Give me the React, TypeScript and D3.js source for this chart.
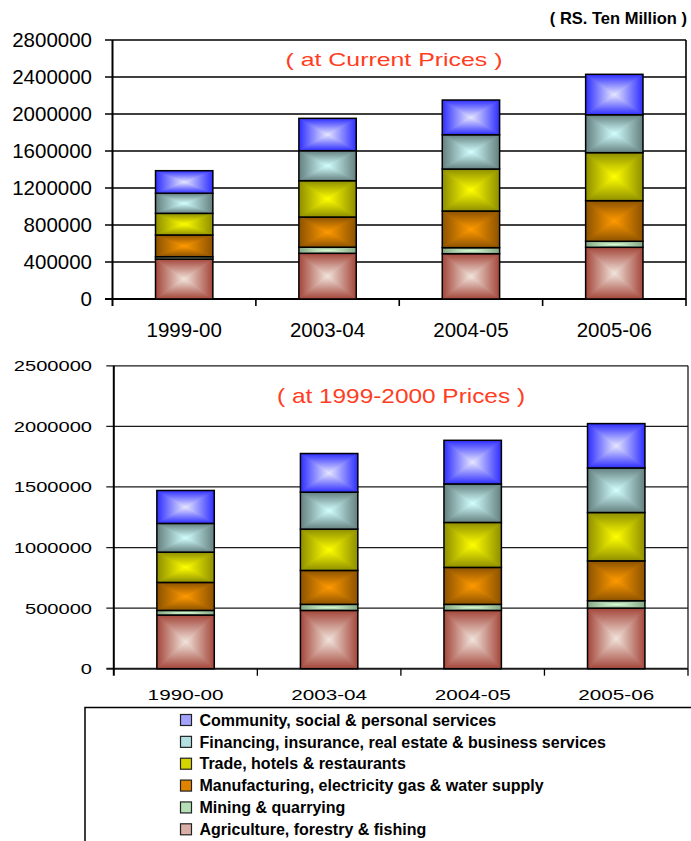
import React from "react";
import * as d3 from "d3";

// ---------- data ----------
const yearsCurrent = ["1999-00", "2003-04", "2004-05", "2005-06"];
const yearsConstant = ["1990-00", "2003-04", "2004-05", "2005-06"];

// stacking order: bottom -> top
const sectorNames = [
  "Agriculture, forestry & fishing",
  "Mining & quarrying",
  "Manufacturing, electricity gas & water supply",
  "Trade, hotels & restaurants",
  "Financing, insurance, real estate & business services",
  "Community, social & personal services",
];
const sectorEdge = ["#A4463A", "#86A886", "#8C5200", "#8E8E00", "#64807F", "#2E2EFF"];
const sectorCenter = ["#F1E4DC", "#D8FFD8", "#FF9A00", "#FFFF00", "#D2FFFF", "#E6E6FF"];
const sectorSwatch = ["#D9AFA6", "#B5E0B5", "#E08400", "#D4D400", "#B3E0E0", "#A3A3FF"];

// at current prices (Rs. ten million)
const curAgriculture = [432000, 494000, 490000, 559000];
const curMining = [25000, 66000, 65000, 65000];
const curManufacturing = [235000, 326000, 396000, 439000];
const curTrade = [234000, 393000, 454000, 519000];
const curFinancing = [217000, 324000, 371000, 410000];
const curCommunity = [244000, 350000, 375000, 437000];

// at 1999-2000 prices
const conAgriculture = [443000, 481000, 481000, 500000];
const conMining = [38000, 50000, 50000, 61000];
const conManufacturing = [231000, 280000, 305000, 329000];
const conTrade = [250000, 341000, 371000, 399000];
const conFinancing = [237000, 305000, 318000, 368000];
const conCommunity = [272000, 319000, 360000, 366000];

const currentTicks = [0, 400000, 800000, 1200000, 1600000, 2000000, 2400000, 2800000];
const constantTicks = [0, 500000, 1000000, 1500000, 2000000, 2500000];

const currentSeries = [curAgriculture, curMining, curManufacturing, curTrade, curFinancing, curCommunity];
const constantSeries = [conAgriculture, conMining, conManufacturing, conTrade, conFinancing, conCommunity];

const FONT = "Arial, 'Liberation Sans', sans-serif";

function Gradients() {
  return (
    <defs>
      {sectorNames.map((_, i) => (
        <React.Fragment key={i}>
          <linearGradient id={`g${i}t`} x1="0" y1="0" x2="0" y2="1">
            <stop offset="0" stopColor={sectorEdge[i]} />
            <stop offset="1" stopColor={sectorCenter[i]} />
          </linearGradient>
          <linearGradient id={`g${i}b`} x1="0" y1="1" x2="0" y2="0">
            <stop offset="0" stopColor={sectorEdge[i]} />
            <stop offset="1" stopColor={sectorCenter[i]} />
          </linearGradient>
          <linearGradient id={`g${i}l`} x1="0" y1="0" x2="1" y2="0">
            <stop offset="0" stopColor={sectorEdge[i]} />
            <stop offset="1" stopColor={sectorCenter[i]} />
          </linearGradient>
          <linearGradient id={`g${i}r`} x1="1" y1="0" x2="0" y2="0">
            <stop offset="0" stopColor={sectorEdge[i]} />
            <stop offset="1" stopColor={sectorCenter[i]} />
          </linearGradient>
        </React.Fragment>
      ))}
    </defs>
  );
}

function Segment({ x0, x1, y0, y1, s }: { x0: number; x1: number; y0: number; y1: number; s: number }) {
  const cx = (x0 + x1) / 2;
  const cy = (y0 + y1) / 2;
  const h = y1 - y0;
  return (
    <g>
      {/* top and bottom halves as full rectangles: no diagonal gaps */}
      <rect x={x0} y={y0} width={x1 - x0} height={h / 2 + 0.3} fill={`url(#g${s}t)`} />
      <rect x={x0} y={cy} width={x1 - x0} height={h / 2} fill={`url(#g${s}b)`} />
      <polygon points={`${x0},${y0} ${x0},${y1} ${cx},${cy}`} fill={`url(#g${s}l)`} />
      <polygon points={`${x1},${y0} ${x1},${y1} ${cx},${cy}`} fill={`url(#g${s}r)`} />
      <rect x={x0} y={y0} width={x1 - x0} height={h} fill="none" stroke="#000" strokeWidth={1.5} />
    </g>
  );
}

type ChartProps = {
  categories: string[];
  series: number[][];
  ticks: number[];
  left: number;
  right: number;
  top: number;
  bottom: number;
  big: boolean;
  title: string;
  titleX: number;
  titleY: number;
  titleSize: number;
  titleLen: number;
  xLabelY: number;
};

function StackChart(p: ChartProps) {
  const x = d3.scaleBand<string>().domain(p.categories).range([p.left, p.right]).padding(0);
  const y = d3.scaleLinear().domain([0, p.ticks[p.ticks.length - 1]]).range([p.bottom, p.top]);
  const rows = p.categories.map((c, ci) => {
    const r: any = { cat: c };
    p.series.forEach((s, si) => (r["s" + si] = s[ci]));
    return r;
  });
  const stack = d3.stack<any>().keys(p.series.map((_, i) => "s" + i))(rows);
  const bw = x.bandwidth();
  const gridColor = p.big ? "#000" : "#1a1a1a";
  const gridW = p.big ? 1.6 : 1.3;
  const boundaries = [...p.categories.map((c) => x(c) as number), p.right];
  return (
    <g>
      {p.ticks.map((t) => (
        <line key={t} x1={p.left - 7.5} x2={p.right} y1={y(t)} y2={y(t)} stroke={gridColor} strokeWidth={t === 0 ? 2 : gridW} />
      ))}
      {p.ticks.map((t) =>
        p.big ? (
          <text key={t} x={92} y={y(t)} dy="0.36em" textAnchor="end" fontFamily={FONT} fontSize={20.5} fill="#000">
            {t}
          </text>
        ) : (
          <text key={t} transform={`translate(92,${y(t)}) scale(1.34,1)`} dy="0.36em" textAnchor="end" fontFamily={FONT} fontSize={15} fill="#000">
            {t}
          </text>
        )
      )}
      {stack.map((layer, si) =>
        layer.map((d, ci) => {
          const cat = p.categories[ci];
          const x0 = (x(cat) as number) + bw * 0.3;
          return <Segment key={si + "-" + ci} x0={x0} x1={x0 + bw * 0.4} y0={y(d[1])} y1={y(d[0])} s={si} />;
        })
      )}
      <line x1={p.left} x2={p.left} y1={p.top} y2={p.bottom} stroke="#000" strokeWidth={2} />
      <line x1={p.right} x2={p.right} y1={p.top} y2={p.bottom} stroke={gridColor} strokeWidth={gridW} />
      {boundaries.map((b, i) => (
        <line key={i} x1={b} x2={b} y1={p.bottom} y2={p.bottom + 7} stroke="#000" strokeWidth={i === 0 ? 2 : gridW} />
      ))}
      {p.categories.map((c) =>
        p.big ? (
          <text key={c} x={(x(c) as number) + bw / 2} y={p.xLabelY} textAnchor="middle" fontFamily={FONT} fontSize={20.5} fill="#000">
            {c}
          </text>
        ) : (
          <text key={c} transform={`translate(${(x(c) as number) + bw / 2},${p.xLabelY}) scale(1.38,1)`} textAnchor="middle" fontFamily={FONT} fontSize={15} fill="#000">
            {c}
          </text>
        )
      )}
      <text x={p.titleX} y={p.titleY} dy="0.36em" textAnchor="middle" fontFamily={FONT} fontSize={p.titleSize} fill="#FF3D1F" textLength={p.titleLen} lengthAdjust="spacingAndGlyphs">
        {p.title}
      </text>
    </g>
  );
}

export default function App() {
  const legendOrder = [5, 4, 3, 2, 1, 0];
  const legendY = d3.scaleLinear().domain([0, 5]).range([720, 829.3]);
  return (
    <svg width={691} height={841} style={{ position: "absolute", left: 0, top: 0, background: "#fff" }} xmlns="http://www.w3.org/2000/svg">
      <Gradients />
      <rect x={0} y={0} width={691} height={841} fill="#fff" />
      <text x={687} y={18} dy="0.36em" textAnchor="end" fontFamily={FONT} fontWeight="bold" fontSize={16.5} fill="#000">
        ( RS. Ten Million )
      </text>
      <StackChart
        categories={yearsCurrent}
        series={currentSeries}
        ticks={currentTicks}
        left={112.5}
        right={686}
        top={40}
        bottom={299}
        big={true}
        title="( at Current Prices )"
        titleX={394}
        titleY={59}
        titleSize={19}
        titleLen={217}
        xLabelY={336.5}
      />
      <StackChart
        categories={yearsConstant}
        series={constantSeries}
        ticks={constantTicks}
        left={113.8}
        right={688}
        top={365.8}
        bottom={668.7}
        big={false}
        title="( at 1999-2000 Prices )"
        titleX={401}
        titleY={395}
        titleSize={21}
        titleLen={248}
        xLabelY={700}
      />
      <rect x={85} y={707.5} width={640} height={160} fill="#fff" stroke="#000" strokeWidth={1.5} />
      {legendOrder.map((si, i) => (
        <g key={si}>
          <rect x={180.5} y={legendY(i) - 5.5} width={11} height={11} fill={sectorSwatch[si]} stroke="#222" strokeWidth={1.2} />
          <text x={199.5} y={legendY(i)} dy="0.36em" fontFamily={FONT} fontWeight="bold" fontSize={16} fill="#000">
            {sectorNames[si]}
          </text>
        </g>
      ))}
    </svg>
  );
}
